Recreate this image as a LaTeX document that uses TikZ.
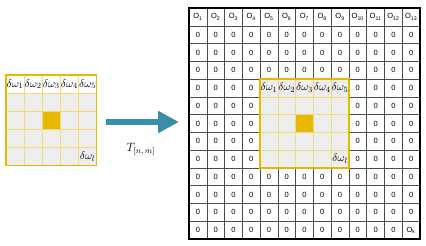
\documentclass[tikz,border=0pt]{standalone}
\usepackage{fontspec}
\setsansfont{Liberation Sans}
\usetikzlibrary{positioning,arrows.meta,calc}
\definecolor{gold}{RGB}{230,184,0}
\definecolor{paleyel}{RGB}{242,218,120}
\definecolor{cellgray}{RGB}{238,238,238}
\definecolor{arrowblue}{RGB}{56,142,168}
\tikzset{
  zerocell/.style={font=\sffamily\fontsize{7.5}{7.5}\selectfont, inner sep=0pt},
  omegacell/.style={font=\fontsize{11}{11}\selectfont, inner sep=0pt},
  gridline/.style={black!70, line width=0.5pt},
  outerframe/.style={black, line width=2.6pt},
  blockline/.style={paleyel, line width=0.6pt},
  blockframe/.style={gold, line width=1.3pt},
  bigarrow/.style={-{Triangle[length=21pt,width=21pt]}, arrowblue, line width=6pt}
}

\begin{document}
\begin{tikzpicture}[x=1pt, y=-1pt]
  \useasboundingbox (0,0) rectangle (426,246);
  % kernel (small grid)
  \fill[cellgray] (6,{75+18.1}) rectangle ({6+5*18.1},{75+5*18.1});
  \fill[gold] ({6+2*18.1},{75+2*18.1}) rectangle ({6+3*18.1},{75+3*18.1});
  \foreach \k in {1,...,4} {
    \draw[blockline] ({6+\k*18.1},75) -- ({6+\k*18.1},{75+5*18.1});
    \draw[blockline] (6,{75+\k*18.1}) -- ({6+5*18.1},{75+\k*18.1});
  }
  \draw[blockframe] (6,75) rectangle ({6+5*18.1},{75+5*18.1});
  \foreach \c in {1,...,5}
    \node[omegacell] (k\c) at ({6+(\c-0.5)*18.1},{75+0.5*18.1}) {$\delta\omega_{\c}$};
  \node[omegacell] (kl) at ({6+4.5*18.1},{75+4.5*18.1}) {$\delta\omega_{l}$};

  % output (big grid)
  \fill[cellgray] ({189+4*17.77},{8+4*17.77}) rectangle ({189+9*17.77},{8+9*17.77});
  \fill[gold] ({189+6*17.77},{8+6*17.77}) rectangle ({189+7*17.77},{8+7*17.77});
  \foreach \k in {1,...,12} {
    \draw[gridline] ({189+\k*17.77},8) -- ({189+\k*17.77},239);
    \draw[gridline] (189,{8+\k*17.77}) -- (420,{8+\k*17.77});
  }
  \foreach \k in {5,...,8} {
    \draw[blockline] ({189+\k*17.77},{8+4*17.77}) -- ({189+\k*17.77},{8+9*17.77});
    \draw[blockline] ({189+4*17.77},{8+\k*17.77}) -- ({189+9*17.77},{8+\k*17.77});
  }
  \draw[blockframe] ({189+4*17.77},{8+4*17.77}) rectangle ({189+9*17.77},{8+9*17.77});
  \draw[outerframe] (189,8) rectangle (420,239);

  \foreach \c in {1,...,13}
    \node[zerocell] (o\c) at ({189+(\c-0.5)*17.77},{8+0.5*17.77}) {O\textsubscript{\c}};
  \foreach \r in {2,3,4,10,11,12}
    \foreach \c in {1,...,13}
      \node[zerocell] (z\r-\c) at ({189+(\c-0.5)*17.77},{8+(\r-0.5)*17.77}) {0};
  \foreach \r in {5,...,9}
    \foreach \c in {1,2,3,4,10,11,12,13}
      \node[zerocell] (z\r-\c) at ({189+(\c-0.5)*17.77},{8+(\r-0.5)*17.77}) {0};
  \foreach \c in {1,...,12}
    \node[zerocell] (z13-\c) at ({189+(\c-0.5)*17.77},{8+12.5*17.77}) {0};
  \node[zerocell] (ok) at ({189+12.5*17.77},{8+12.5*17.77}) {O\textsubscript{k}};
  \foreach \c in {1,...,5}
    \node[omegacell] (b\c) at ({189+(\c+3.5)*17.77},{8+4.5*17.77}) {$\delta\omega_{\c}$};
  \node[omegacell] (bl) at ({189+8.5*17.77},{8+8.5*17.77}) {$\delta\omega_{l}$};

  % shift operator
  \coordinate (tail) at (106,122);
  \coordinate (head) at (179,122);
  \draw[bigarrow] (tail) -- (head);
  \node[font=\fontsize{12}{12}\selectfont] (shift) at (141,149) {$T_{[n,\,m]}$};
\end{tikzpicture}
\end{document}
